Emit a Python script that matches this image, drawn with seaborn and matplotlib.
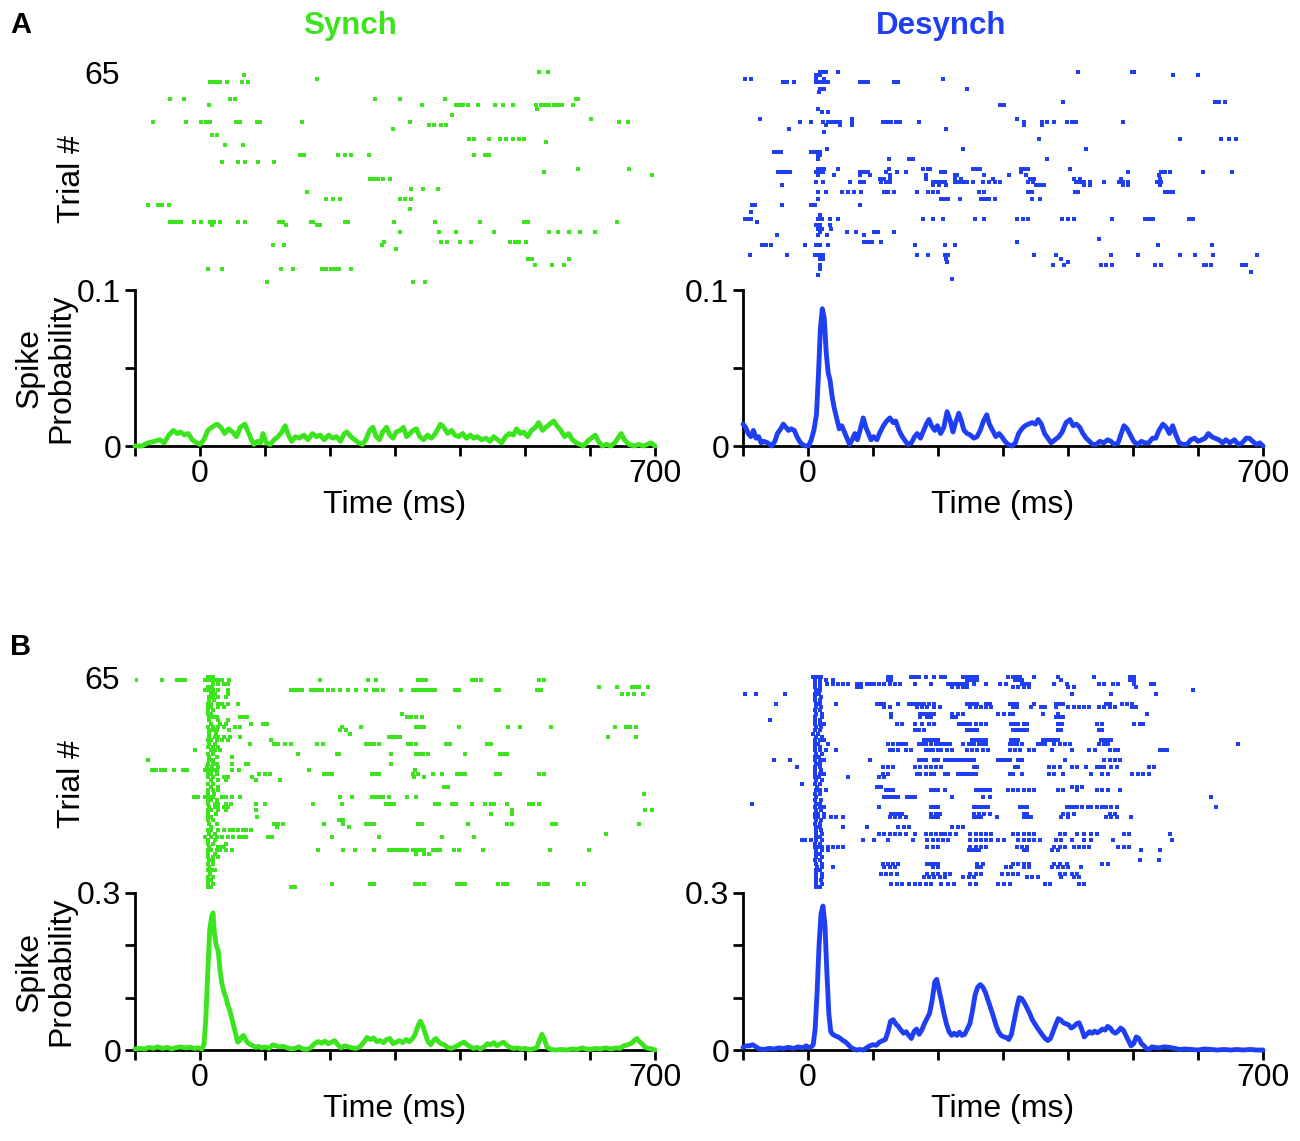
import pandas as pd
import seaborn as sns
import matplotlib.pyplot as plt

GREEN = '#3ce41e'
BLUE = '#1f3ff2'

# ---- spike probability curves: (time ms, probability) ----
synch_a_psth = [
    (-100, 0), (-90, 0), (-80, .002), (-70, .003), (-62, .004), (-55, .002), (-48, .007), (-41, .010),
    (-35, .008), (-30, .009), (-24, .007), (-18, .008), (-12, .004), (-5, .002), (0, .001), (6, .004),
    (12, .010), (18, .012), (26, .014), (32, .012), (38, .008), (44, .011), (50, .009), (56, .006),
    (62, .012), (69, .014), (74, .009), (79, .004), (83, .001), (88, .003), (93, .002), (97, .008),
    (102, .002), (108, .001), (114, .004), (120, .006), (126, .009), (131, .013), (136, .007), (141, .003),
    (147, .006), (153, .005), (160, .007), (166, .004), (173, .008), (179, .006), (185, .007), (191, .004),
    (198, .007), (204, .005), (210, .006), (216, .003), (222, .008), (226, .009), (232, .006), (238, .004),
    (244, .002), (250, .001), (255, .004), (261, .010), (266, .012), (271, .006), (276, .004), (281, .009),
    (287, .012), (292, .007), (297, .005), (302, .009), (308, .010), (313, .012), (318, .006), (323, .008),
    (328, .010), (333, .011), (338, .006), (344, .004), (350, .007), (356, .005), (362, .008), (366, .011),
    (370, .014), (375, .012), (381, .008), (387, .010), (392, .007), (398, .006), (404, .008), (410, .005),
    (416, .007), (421, .005), (427, .006), (433, .004), (440, .005), (446, .003), (452, .006), (458, .004),
    (464, .002), (470, .006), (476, .008), (482, .007), (487, .011), (493, .008), (498, .009), (504, .006),
    (510, .010), (516, .012), (521, .015), (527, .010), (532, .012), (538, .014), (544, .016), (549, .013),
    (555, .010), (561, .006), (567, .008), (573, .004), (579, .002), (585, .001), (590, 0), (596, .003),
    (602, .005), (608, .007), (613, .003), (619, 0), (625, .001), (632, 0), (638, .002), (643, .005),
    (648, .008), (653, .004), (660, .001), (668, 0), (675, .001), (682, 0), (688, .001), (694, .002), (700, 0),
]

desynch_a_psth = [
    (-100, .014), (-96, .012), (-92, .008), (-88, .006), (-84, .010), (-80, .005), (-76, .006), (-72, .002),
    (-68, .003), (-62, .002), (-56, 0), (-51, .003), (-47, .008), (-42, .011), (-38, .014), (-34, .012),
    (-30, .010), (-26, .011), (-21, .010), (-17, .006), (-13, .003), (-9, .001), (-3, 0), (1, 0),
    (5, .004), (9, .010), (13, .020), (16, .045), (19, .075), (22, .088), (25, .082), (28, .060),
    (31, .047), (34, .042), (37, .032), (40, .025), (44, .018), (48, .011), (52, .013), (56, .009),
    (60, .005), (64, .001), (68, .004), (72, .008), (76, .004), (80, .010), (85, .018), (89, .012),
    (93, .008), (97, .004), (101, .006), (106, .004), (111, .009), (116, .013), (121, .016), (126, .018),
    (131, .015), (135, .016), (140, .010), (145, .006), (150, .003), (154, .001), (159, .002), (164, .006),
    (168, .008), (173, .005), (178, .010), (182, .014), (186, .017), (190, .013), (195, .010), (199, .013),
    (204, .008), (209, .012), (214, .022), (219, .016), (223, .009), (227, .015), (232, .021), (236, .016),
    (240, .010), (245, .008), (250, .007), (255, .005), (260, .006), (265, .010), (270, .016), (275, .020),
    (279, .014), (284, .010), (289, .006), (294, .008), (298, .006), (303, .003), (308, .001), (314, 0),
    (319, .002), (324, .008), (329, .011), (334, .013), (339, .014), (345, .015), (350, .014), (354, .017),
    (359, .014), (364, .008), (369, .005), (374, .002), (380, .004), (386, .006), (391, .009), (397, .015),
    (403, .017), (408, .013), (413, .014), (418, .012), (423, .008), (428, .005), (433, .003), (438, .001),
    (443, .001), (449, .003), (455, .002), (461, .004), (466, .003), (471, .001), (477, .002), (482, .008),
    (486, .013), (491, .011), (496, .007), (501, .003), (507, .001), (513, .003), (518, .002), (524, .002),
    (530, .005), (535, .005), (540, .010), (546, .014), (551, .012), (556, .008), (561, .013), (566, .007),
    (571, .002), (577, .001), (583, .001), (589, .004), (595, .005), (600, .003), (606, .004), (611, .005),
    (616, .008), (621, .006), (626, .005), (632, .004), (638, .002), (643, .004), (649, .002), (656, .004),
    (662, .001), (668, .002), (674, .005), (679, .005), (684, .003), (690, .001), (695, .002), (700, 0),
]

synch_b_psth = [
    (-100, .002), (-92, .003), (-85, .002), (-78, .005), (-72, .003), (-65, .006), (-58, .003), (-50, .005),
    (-44, .002), (-38, .004), (-30, .006), (-22, .004), (-15, .005), (-8, .003), (-2, .004), (3, .002),
    (6, .010), (9, .060), (12, .150), (15, .230), (18, .255), (20, .262), (22, .225), (25, .200),
    (28, .190), (31, .150), (34, .125), (37, .110), (40, .100), (43, .085), (46, .075), (49, .060),
    (52, .045), (55, .030), (58, .015), (61, .018), (64, .025), (67, .028), (70, .020), (74, .013),
    (78, .010), (82, .008), (86, .005), (90, .007), (95, .004), (100, .006), (106, .003), (112, .010),
    (117, .008), (122, .006), (128, .007), (134, .004), (140, .002), (146, .003), (152, .006), (158, .002),
    (164, .001), (170, .004), (176, .012), (182, .016), (187, .013), (192, .017), (197, .012), (202, .015),
    (207, .018), (212, .010), (217, .004), (222, .008), (228, .006), (234, .004), (240, .003), (246, .006),
    (252, .015), (257, .024), (262, .020), (267, .023), (272, .016), (277, .018), (282, .014), (287, .020),
    (292, .022), (297, .012), (302, .015), (307, .018), (312, .014), (317, .020), (322, .016), (327, .022),
    (331, .030), (335, .045), (339, .055), (343, .045), (347, .030), (351, .015), (355, .010), (359, .018),
    (363, .022), (367, .016), (371, .012), (376, .010), (381, .005), (386, .003), (391, .005), (396, .008),
    (401, .012), (406, .015), (411, .010), (416, .006), (421, .003), (426, .005), (431, .002), (437, .006),
    (442, .012), (447, .010), (452, .014), (457, .008), (462, .012), (467, .015), (472, .009), (477, .005),
    (482, .003), (488, .004), (494, .002), (500, .003), (506, .001), (512, .002), (518, .004), (522, .018),
    (526, .030), (530, .020), (534, .005), (540, .001), (548, 0), (556, .001), (564, 0), (572, .002),
    (580, .001), (588, .004), (594, .002), (600, .001), (608, .003), (616, .002), (624, .004), (632, .002),
    (640, .004), (646, .003), (652, .008), (658, .010), (664, .013), (668, .018), (672, .022), (676, .016),
    (680, .012), (685, .005), (690, .003), (695, .002), (700, 0),
]

desynch_b_psth = [
    (-100, .005), (-95, .008), (-90, .008), (-85, .010), (-80, .006), (-75, .002), (-68, .001), (-60, .003),
    (-52, .002), (-45, .004), (-38, .003), (-30, .005), (-22, .003), (-15, .006), (-8, .004), (-3, .008),
    (1, .005), (5, .006), (8, .010), (11, .040), (14, .110), (17, .200), (20, .260), (23, .275),
    (26, .240), (29, .150), (32, .070), (35, .035), (38, .030), (42, .027), (46, .025), (50, .022),
    (54, .018), (58, .015), (62, .010), (66, .005), (70, .002), (75, 0), (80, .001), (85, 0),
    (90, .004), (95, .008), (100, .010), (105, .009), (110, .015), (115, .018), (119, .020), (123, .035),
    (127, .055), (131, .058), (135, .050), (139, .045), (143, .038), (147, .032), (151, .035), (155, .028),
    (159, .022), (163, .035), (167, .040), (171, .030), (175, .038), (179, .050), (183, .060), (187, .070),
    (191, .095), (195, .130), (198, .135), (201, .118), (205, .095), (209, .070), (213, .050), (217, .035),
    (221, .028), (225, .032), (229, .028), (233, .034), (237, .028), (241, .030), (245, .040), (249, .050),
    (253, .075), (257, .105), (261, .120), (265, .125), (269, .120), (273, .110), (277, .095), (281, .080),
    (285, .065), (289, .048), (293, .035), (297, .028), (301, .025), (305, .024), (309, .020), (313, .030),
    (317, .055), (321, .080), (325, .100), (329, .098), (333, .090), (337, .080), (341, .070), (345, .058),
    (349, .050), (353, .042), (357, .035), (361, .028), (365, .022), (369, .018), (373, .022), (377, .035),
    (381, .048), (385, .060), (389, .057), (393, .052), (397, .050), (401, .048), (405, .042), (409, .045),
    (413, .050), (417, .052), (421, .040), (425, .025), (429, .030), (433, .035), (437, .032), (441, .036),
    (445, .033), (449, .036), (453, .040), (457, .038), (461, .045), (465, .042), (469, .035), (473, .032),
    (477, .036), (481, .042), (485, .038), (489, .028), (493, .018), (497, .008), (501, .012), (505, .025),
    (509, .022), (513, .012), (517, .008), (521, .002), (525, .001), (529, .006), (533, .005), (540, .004),
    (548, .006), (556, .005), (564, .003), (572, .001), (580, .002), (590, .001), (600, 0), (610, .002),
    (620, .001), (630, 0), (640, .001), (650, 0), (660, .001), (670, 0), (680, .001), (690, 0), (700, 0),
]

# ---- rasters: trial -> spike times (ms) ----
synch_a_spikes = {
    65: [521, 536], 64: [67], 63: [180], 62: [15, 20, 26, 31, 42, 64, 74],
    57: [-46, -24, 46, 54, 269, 307, 377, 578, 582],
    55: [14, 341, 394, 399, 404, 412, 428, 454, 466, 481, 517, 524, 531, 537, 544, 551, 557, 574],
    54: [518], 52: [387], 51: [601],
    50: [-73, -21, 2, 9, 16, 56, 62, 87, 93, 157, 323, 644, 658],
    49: [352, 360, 370, 379], 48: [297], 46: [18, 26],
    45: [414, 422, 444, 462, 471, 481, 491, 499], 44: [533], 43: [39, 66],
    40: [154, 160, 212, 223, 233, 260, 422, 439, 444],
    38: [34, 59, 69, 89, 114], 36: [581, 660], 35: [529], 34: [696],
    33: [261, 268, 274, 281, 292], 30: [325, 343, 366], 29: [165],
    27: [194, 205, 216, 307, 315, 325], 25: [-80, -64, -58, -48], 24: [323],
    20: [-46, -41, -36, -30, -9, 2, 16, 22, 31, 59, 69, 121, 127, 170, 174, 223, 228, 299, 362, 430, 499, 504, 641],
    19: [18, 133, 180, 184],
    17: [307, 368, 394, 452, 537, 551, 568, 584, 608],
    14: [283, 370, 380, 400, 417, 477, 484, 491, 501],
    13: [113, 129, 280], 12: [302], 9: [504, 511, 568], 7: [515, 541, 560],
    6: [12, 34, 125, 143, 188, 194, 201, 208, 214, 232],
    2: [103, 328, 346],
}

desynch_a_spikes = {
    65: [19, 23, 27, 46, 415, 498, 501], 64: [13, 19, 562, 600], 63: [-97, -88, 13, 25, 208],
    62: [-38, -32, -21, 13, 19, 25, 31, 80, 86, 92, 132, 139],
    60: [18, 24, 245], 59: [17], 56: [392, 626, 633, 641], 55: [295, 301], 54: [16], 53: [22, 30],
    51: [-74, 68, 322],
    50: [-12, 4, 23, 31, 37, 43, 49, 68, 115, 121, 127, 135, 141, 170, 332, 360, 368, 379, 399, 406, 412, 484],
    49: [28, 49, 68, 333, 360], 48: [-30, 213], 47: [25], 45: [356, 573, 636, 647, 659],
    42: [29, 238, 427], 41: [-52, -48, -42, 4, 10, 16, 19], 40: [15, 19],
    39: [15, 124, 156, 161, 367],
    36: [15, 21, 25, 46, 124, 177, 184, 188, 254, 260, 264, 327, 333, 338, 403],
    35: [-46, -40, -34, -27, 13, 19, 23, 80, 86, 92, 120, 137, 151, 205, 211, 327, 493, 543, 549, 557, 607, 652],
    34: [15, 40, 80, 95, 126, 181, 226, 229, 271, 309, 336, 540],
    33: [110, 117, 126, 181, 226, 235, 284, 342, 348, 409, 418, 482, 542],
    32: [13, 23, 65, 80, 86, 112, 120, 126, 193, 199, 205, 211, 226, 232, 238, 245, 254, 269, 278, 287,
         295, 339, 346, 412, 418, 424, 434, 455, 479, 485, 492, 537, 543],
    31: [-40, 193, 202, 212, 351, 357, 363, 424, 434, 485, 493, 542],
    29: [16, 27, 52, 62, 71, 82, 117, 123, 132, 167, 184, 193, 200, 263, 271, 338, 345, 411, 415, 549, 556, 562],
    27: [16, 205, 211, 216, 234, 266, 272, 278, 287, 344, 357],
    25: [-86, -82, -40, 4, 10, 80], 23: [-87], 22: [19],
    21: [-99, -94, -88, 16, 22, 34, 46, 177, 193, 208, 257, 271, 321, 330, 339, 391, 400, 409, 467, 519, 525, 531, 586, 592],
    20: [-79], 19: [13, 19, 34], 18: [15, 21, 35], 17: [19, 60, 74, 101, 107, 132],
    16: [-48, 16, 29, 86], 15: [447], 14: [86, 92, 98, 112, 322],
    13: [-71, -65, -57, -4, 13, 19, 31, 165, 211, 226, 539, 621],
    10: [-89, -32, 11, 17, 23, 167, 184, 210, 216, 348, 382, 466, 508, 572, 596, 623, 690],
    9: [19, 23, 212, 389], 8: [214, 400],
    7: [19, 377, 394, 450, 458, 467, 534, 543, 609, 613, 620, 668, 674],
    6: [19], 5: [681], 4: [16], 3: [222],
}

synch_b_spikes = {
    65: [12, 16, 20],
    64: [-98, -58, -35, -29, -23, 8, 14, 20, 26, 28, 34, 44, 185, 258, 271, 335, 342, 348, 419, 425, 432, 521, 529],
    63: [20, 28, 37, 43],
    62: [12, 18, 614, 641, 664, 670, 676, 689],
    61: [8, 14, 20, 28, 43, 140, 145, 151, 157, 171, 177, 182, 188, 197, 205, 215, 227, 240, 256, 268, 273, 282,
         309, 328, 333, 339, 345, 350, 356, 362, 393, 399, 455, 460, 518, 524],
    60: [17, 23, 43, 649, 658, 667, 681],
    59: [14, 20, 27, 40], 58: [14, 22], 57: [12, 17, 27, 34, 43, 58], 56: [12, 17, 28, 37],
    55: [12, 20], 54: [12, 17, 310],
    53: [14, 20, 26, 62, 67, 73, 318, 325, 332, 341],
    52: [14, 27, 43], 51: [17, 30, 40, 79, 97, 103],
    50: [12, 20, 28, 37, 54, 62, 218, 248, 333, 339, 345, 398, 474, 493, 540, 639, 655, 661, 670],
    49: [14, 20, 26, 44, 216, 225], 48: [14, 25, 230],
    47: [14, 23, 28, 37, 46, 62, 290, 296, 302, 307, 628, 670],
    46: [12, 17, 26, 34, 43, 109],
    45: [14, 23, 77, 114, 120, 131, 140, 180, 189, 256, 261, 268, 276, 320, 325, 332, 379, 385, 442, 447],
    44: [12, 20, 28], 43: [-7, 17, 23, 30],
    42: [12, 20, 151, 210, 214, 294, 332, 337, 343, 350, 407, 462, 467, 473],
    41: [14, 26, 49], 40: [-80, 14, 20], 39: [12, 20, 26, 49, 70, 74, 294], 38: [11, 18, 28],
    37: [-74, -68, -60, -54, -40, -26, -20, 8, 14, 20, 26, 49, 60, 168, 330],
    36: [12, 17, 26, 91, 100, 107, 191, 197, 203, 265, 271, 276, 328, 335, 358, 372, 396, 402, 408, 456, 462, 521, 529],
    35: [12, 20, 37, 43, 80, 329, 345], 34: [17, 28, 40, 86, 123], 33: [12, 20],
    32: [17, 28, 376, 382], 31: [12, 20, 28], 30: [13, 22, 683],
    29: [-9, -3, 8, 14, 20, 34, 40, 49, 62, 216, 234, 265, 271, 276, 282, 290, 319, 333],
    28: [12, 17, 26],
    27: [12, 23, 28, 40, 47, 86, 100, 174, 218, 286, 292, 298, 362, 368, 387, 394, 419, 439, 447, 453, 472, 506, 513, 521],
    26: [14, 23, 27, 37, 43], 25: [12, 17, 27, 40, 86, 480, 684, 695], 24: [13, 25, 447, 480],
    23: [12, 17, 88], 22: [12, 20, 214, 220],
    21: [14, 26, 114, 120, 128, 191, 220, 256, 261, 267, 335, 342, 413, 473, 480, 541, 548, 675],
    20: [17, 119, 229], 19: [12, 14, 17, 28, 37, 46, 51, 58, 66, 71, 79], 18: [14, 23, 624],
    17: [8, 17, 26, 34, 43, 50, 60, 66, 71, 105, 111, 203, 276, 373, 421],
    16: [12, 23], 15: [12, 20, 40], 14: [14, 28, 31, 37],
    13: [12, 17, 26, 31, 40, 49, 182, 220, 238, 268, 291, 296, 302, 308, 313, 319, 328, 333, 339, 345,
         359, 365, 369, 390, 398, 436, 539, 599],
    12: [12, 23, 333, 345, 353], 11: [12, 20, 28], 10: [14, 20], 9: [12, 20], 8: [14],
    7: [12, 17, 23], 6: [16], 5: [12, 20], 4: [12, 17],
    3: [12, 20, 203, 262, 268, 330, 337, 345, 396, 402, 408, 459, 466, 472, 521, 529, 536, 582, 590],
    2: [12, 17, 140, 146],
}

desynch_b_spikes = {
    65: [8, 14, 20, 123, 128, 159, 164, 170, 181, 194, 205, 210, 238, 244, 249, 255, 260, 307, 315, 321, 326, 348, 384, 440, 495, 502],
    64: [10, 18, 27, 38, 123, 128, 244, 249, 255, 260, 318, 323, 329, 389, 495, 502],
    63: [10, 18, 29, 38, 46, 54, 61, 76, 82, 90, 95, 102, 109, 117, 126, 134, 142, 164, 189, 216, 222, 227, 233,
         238, 244, 255, 274, 296, 304, 329, 334, 340, 378, 398, 447, 455, 469, 477, 501, 527, 532],
    62: [10, 18, 76, 82, 222, 230, 238, 245, 315, 323, 332, 340, 400, 409, 505],
    61: [12, 19, 593], 60: [-97, -80, -36, 10, 17, 406, 466, 535], 59: [11, 20], 58: [10, 18],
    57: [-50, 12, 18, 43, 106, 112, 117, 139, 156, 161, 167, 172, 178, 186, 194, 244, 249, 255, 260, 274, 280,
         310, 315, 321, 348, 381, 387, 392, 458, 464, 483, 491, 499],
    56: [13, 20, 117, 126, 167, 175, 183, 194, 203, 249, 258, 266, 274, 282, 315, 321, 343, 359, 365, 381, 400,
         409, 417, 425, 433, 447, 455, 464, 472, 499, 505],
    55: [10, 18],
    54: [13, 21, 128, 172, 178, 183, 189, 194, 222, 230, 238, 293, 302, 310, 315, 362, 384, 521],
    53: [10, 21, 128, 172, 183, 189, 221, 227, 381, 387, 392],
    52: [-58, 10, 18],
    51: [10, 18, 24, 137, 145, 164, 175, 186, 194, 233, 238, 244, 249, 258, 266, 274, 312, 318, 323, 332, 337,
         384, 391, 444, 453, 502, 510, 516],
    50: [12, 20],
    49: [10, 18, 164, 170, 178, 244, 249, 255, 260, 315, 321, 326, 332, 337, 384, 389, 447, 453],
    48: [8, 16], 47: [12, 21],
    46: [10, 18, 24, 178, 183, 189, 194, 200, 252, 258, 263, 269, 274, 312, 318, 323, 362, 367, 373, 378, 384,
         450, 455, 461, 466],
    45: [10, 16, 30, 123, 131, 139, 145, 150, 170, 175, 181, 189, 197, 203, 208, 214, 219, 238, 247, 252, 255,
         263, 269, 274, 310, 315, 321, 329, 354, 359, 365, 378, 387, 395, 403, 447, 455, 461, 661],
    44: [10, 18],
    43: [10, 18, 27, 43, 126, 131, 139, 150, 159, 181, 186, 192, 200, 205, 214, 222, 244, 252, 260, 269, 277,
         310, 318, 326, 340, 348, 376, 406, 433, 442, 464, 472, 477, 541, 546, 552],
    42: [13, 21], 41: [10, 17],
    40: [-53, -28, 10, 18, 24, 95, 170, 175, 181, 194, 200, 211, 216, 222, 227, 233, 238, 244, 249, 255, 293,
         299, 304, 310, 323, 329, 395, 455, 464, 472, 480],
    39: [12, 19],
    38: [-17, 10, 18, 115, 123, 131, 164, 172, 181, 189, 197, 205, 255, 260, 318, 323, 370, 378, 387, 406, 414,
         428, 444, 450, 455, 466, 475, 524, 532],
    37: [11, 20],
    36: [10, 18, 24, 115, 123, 167, 172, 181, 189, 194, 211, 216, 230, 236, 241, 247, 252, 258, 310, 316, 329,
         370, 378, 392, 436, 453, 461, 499, 508, 516, 524],
    35: [10, 17, 62, 109, 117], 34: [12, 21], 33: [-10, 10, 18], 32: [14, 106, 112, 406, 414, 422],
    31: [13, 18, 27, 120, 126, 131, 189, 194, 200, 211, 258, 263, 269, 274, 280, 307, 315, 323, 332, 340, 348,
         384, 392, 414, 444, 453, 461, 480],
    30: [10, 18],
    29: [13, 117, 123, 128, 134, 139, 153, 159, 164, 222, 269, 280, 620],
    28: [11, 20], 27: [-86, 13, 18],
    26: [10, 18, 24, 109, 189, 194, 200, 255, 260, 266, 271, 277, 326, 332, 337, 398, 403, 409, 414, 422, 431,
         436, 444, 453, 458, 466, 475, 628],
    25: [12, 20],
    24: [10, 16, 24, 128, 134, 139, 145, 189, 197, 203, 255, 263, 271, 280, 332, 337, 392, 400, 409, 464, 472],
    23: [10, 16, 24, 35, 43, 54, 126, 134, 142, 150, 189, 194, 200, 255, 260, 266, 291, 332, 337, 343, 389, 400,
         458, 466, 475, 497],
    22: [13, 20], 21: [11, 19],
    20: [13, 18, 54, 90, 139, 148, 156, 222, 230, 238],
    19: [13, 20],
    18: [13, 21, 109, 117, 126, 134, 142, 150, 164, 181, 189, 197, 205, 211, 219, 227, 249, 258, 266, 274, 282,
         315, 323, 332, 340, 348, 387, 395, 414, 425, 436, 444, 486, 494, 557],
    17: [12, 19],
    16: [-10, -4, 5, 13, 21, 84, 101, 123, 161, 183, 192, 200, 208, 216, 249, 258, 266, 274, 282, 293, 302, 323,
         332, 340, 348, 357, 381, 389, 406, 425, 436, 469, 560],
    15: [11, 18],
    14: [10, 16, 21, 30, 38, 46, 54, 183, 192, 200, 249, 258, 266, 274, 321, 329, 337, 378, 387, 395, 409, 417,
         425, 433, 477, 486, 494],
    13: [13, 21, 30, 247, 252, 258, 263, 332, 337, 376, 384, 513, 541],
    12: [12, 19], 11: [13, 21], 10: [11, 18, 510, 540],
    9: [13, 21, 115, 123, 131, 139, 183, 189, 194, 200, 260, 269, 315, 323, 332, 340, 378, 387, 398, 453, 461],
    8: [14, 22, 38, 117, 126, 134, 192, 200, 260, 266, 304, 312, 332, 340, 376, 384, 392, 400, 420],
    7: [12, 19],
    6: [13, 21, 112, 120, 128, 137, 183, 192, 200, 211, 219, 249, 258, 266, 299, 307, 315, 323, 387, 395, 406, 414],
    5: [13, 21, 178, 186, 194, 203, 211, 238, 247, 255, 337, 345, 354, 389, 409, 417],
    4: [12, 20],
    3: [13, 21, 128, 137, 145, 156, 164, 172, 181, 189, 205, 216, 225, 249, 258, 293, 302, 310, 365, 373, 417, 425],
    2: [12, 19],
}

x_ticks = [-100, 0, 100, 200, 300, 400, 500, 600, 700]
x_labels = ['', '0', '', '', '', '', '', '', '700']
y_ticks_a = [0, 0.05, 0.1]
y_labels_a = ['0', '', '0.1']
y_ticks_b = [0, 0.1, 0.2, 0.3]
y_labels_b = ['0', '', '', '0.3']

FS = 23
W, H = 1300, 1141


def rect(x0, y0, w, h):
    return [x0 / W, 1 - (y0 + h) / H, w / W, h / H]


def spikes_frame(spikes):
    rows = [(t, trial) for trial, times in spikes.items() for t in times]
    return pd.DataFrame(rows, columns=['time', 'trial'])


def draw_raster(ax, spikes, color, first_col):
    df = spikes_frame(spikes)
    sns.scatterplot(data=df, x='time', y='trial', marker='s', s=6, color=color,
                    linewidth=0, ax=ax, legend=False)
    ax.set_xlim(-100, 700)
    ax.set_ylim(0, 66)
    ax.patch.set_alpha(0)
    for s in ax.spines.values():
        s.set_visible(False)
    ax.set_xticks([])
    ax.set_xlabel('')
    if first_col:
        ax.set_yticks([65])
        ax.set_yticklabels(['65'])
        ax.tick_params(axis='y', left=False, length=0, pad=11, labelsize=FS, labelcolor='black')
        ax.set_ylabel('Trial #', fontsize=FS, color='black')
        ax.yaxis.set_label_coords(-0.092, 0.5)
    else:
        ax.set_yticks([])
        ax.set_ylabel('')


def draw_psth(ax, psth, color, ymax, yticks, ylabels, first_col):
    t = [p[0] for p in psth]
    v = [p[1] for p in psth]
    sns.lineplot(x=t, y=v, color=color, linewidth=3.5, sort=False, estimator=None, ax=ax)
    line = ax.lines[-1]
    line.set_clip_on(False)
    line.set_zorder(3)
    line.set_solid_joinstyle('round')
    ax.set_xlim(-100, 700)
    ax.set_ylim(0, ymax)
    ax.patch.set_alpha(0)
    sns.despine(ax=ax)
    for s in ['left', 'bottom']:
        ax.spines[s].set_linewidth(2)
        ax.spines[s].set_color('black')
    ax.set_xticks(x_ticks)
    ax.set_xticklabels(x_labels)
    ax.set_yticks(yticks)
    ax.set_yticklabels(ylabels)
    ax.tick_params(axis='both', direction='out', length=7, width=2, labelsize=FS,
                   color='black', labelcolor='black', bottom=True, left=True)
    ax.tick_params(axis='x', pad=2)
    ax.tick_params(axis='y', pad=3)
    ax.set_xlabel('Time (ms)', fontsize=FS, color='black')
    h = ax.get_position().height * H
    ax.xaxis.set_label_coords(0.5, -44 / h)
    if first_col:
        ax.set_ylabel('Spike\nProbability', fontsize=FS, linespacing=1.1, color='black')
        ax.yaxis.set_label_coords(-0.112, 0.5)
    else:
        ax.set_ylabel('')


def main():
    sns.set_theme(style='white')
    plt.rcParams['font.family'] = ['Liberation Sans', 'DejaVu Sans']
    plt.rcParams['text.color'] = 'black'

    fig = plt.figure(figsize=(13, 11.41), dpi=100)

    lefts = [135, 743]
    panels = [
        (68.7, 290, 156, [(synch_a_spikes, synch_a_psth, GREEN), (desynch_a_spikes, desynch_a_psth, BLUE)],
         0.1, y_ticks_a, y_labels_a),
        (673.7, 893, 157, [(synch_b_spikes, synch_b_psth, GREEN), (desynch_b_spikes, desynch_b_psth, BLUE)],
         0.3, y_ticks_b, y_labels_b),
    ]
    for r_top, p_top, p_h, cols, ymax, yt, yl in panels:
        for i, (spikes, psth, color) in enumerate(cols):
            ax_r = fig.add_axes(rect(lefts[i], r_top, 520, 220))
            draw_raster(ax_r, spikes, color, i == 0)
            ax_p = fig.add_axes(rect(lefts[i], p_top, 520, p_h))
            draw_psth(ax_p, psth, color, ymax, yt, yl, i == 0)

    fig.text(350 / W, 1 - 34 / H, 'Synch', color=GREEN, fontsize=22.5, fontweight='bold',
             ha='center', va='baseline')
    fig.text(941 / W, 1 - 34 / H, 'Desynch', color=BLUE, fontsize=22.5, fontweight='bold',
             ha='center', va='baseline')
    fig.text(10 / W, 1 - 33 / H, 'A', fontsize=21, fontweight='bold', ha='left', va='baseline')
    fig.text(10 / W, 1 - 655 / H, 'B', fontsize=21, fontweight='bold', ha='left', va='baseline')

    fig.savefig('out.png', dpi=100)
    plt.close('all')


if __name__ == '__main__':
    main()
